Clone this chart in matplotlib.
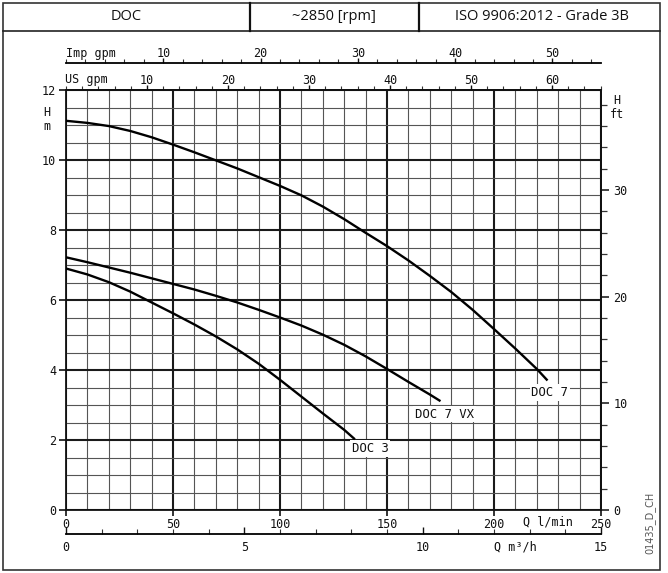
import matplotlib
matplotlib.use("Agg")
import matplotlib.pyplot as plt
from matplotlib.ticker import MultipleLocator, FixedLocator
from matplotlib.patches import Rectangle
from matplotlib.lines import Line2D

# ---------------- data ----------------
q_doc7 = [0, 10, 20, 30, 40, 50, 60, 70, 80, 90, 100, 110, 120, 130, 140, 150,
          160, 170, 180, 190, 200, 210, 220, 225]
h_doc7 = [11.12, 11.06, 10.97, 10.83, 10.65, 10.44, 10.22, 9.99, 9.76, 9.51, 9.26,
          8.99, 8.67, 8.31, 7.92, 7.54, 7.13, 6.69, 6.23, 5.72, 5.17, 4.61, 4.03, 3.70]

q_doc7vx = [0, 10, 20, 30, 40, 50, 60, 70, 80, 90, 100, 110, 120, 130, 140, 150,
            160, 170, 175]
h_doc7vx = [7.22, 7.08, 6.93, 6.78, 6.62, 6.46, 6.30, 6.12, 5.93, 5.72, 5.50,
            5.27, 5.01, 4.72, 4.39, 4.03, 3.66, 3.30, 3.11]

q_doc3 = [0, 10, 20, 30, 40, 50, 60, 70, 80, 90, 100, 110, 120, 130, 135]
h_doc3 = [6.90, 6.73, 6.51, 6.24, 5.93, 5.62, 5.30, 4.96, 4.59, 4.18, 3.72,
          3.24, 2.76, 2.29, 2.02]

curve_names = ["DOC 7", "DOC 7 VX", "DOC 3"]
header_texts = ["DOC", "~2850 [rpm]", "ISO 9906:2012 - Grade 3B"]
lmin_ticks = [0, 50, 100, 150, 200, 250]
m_ticks = [0, 2, 4, 6, 8, 10, 12]
ft_ticks = [0, 10, 20, 30]
usgpm_ticks = [10, 20, 30, 40, 50, 60]
impgpm_ticks = [10, 20, 30, 40, 50]
m3h_ticks = [0, 5, 10, 15]
drawing_code = "01435_D_CH"

W, H = 668, 573
MONO = "DejaVu Sans Mono"

def fx(px):
    return px / W

def fy(py):
    return 1 - py / H

fig = plt.figure(figsize=(W / 100, H / 100), dpi=100)

# ---------------- frame & header ----------------
fig.patches.append(Rectangle((fx(2.5), fy(570)), fx(660) - fx(2.5), fy(2.5) - fy(570),
                             transform=fig.transFigure, fill=False,
                             edgecolor="#333333", lw=1.2))
fig.lines.append(Line2D([fx(2.5), fx(660)], [fy(31), fy(31)],
                        transform=fig.transFigure, color="#222222", lw=1.2))
for xd in (250, 419):
    fig.lines.append(Line2D([fx(xd), fx(xd)], [fy(2.5), fy(31)],
                            transform=fig.transFigure, color="#111111", lw=1.6))
for xc, t in zip((126, 334, 542), header_texts):
    fig.text(fx(xc), fy(17), t, ha="center", va="center",
             fontsize=10.5, family="Open Sans", color="#111111")

# ---------------- main axes ----------------
ax = fig.add_axes([fx(66), fy(510), fx(601) - fx(66), fy(90) - fy(510)])
ax.set_xlim(0, 250)
ax.set_ylim(0, 12)

ax.xaxis.set_major_locator(FixedLocator(lmin_ticks))
ax.xaxis.set_minor_locator(MultipleLocator(10))
ax.yaxis.set_major_locator(FixedLocator(m_ticks))
ax.yaxis.set_minor_locator(MultipleLocator(0.5))
ax.grid(which="major", color="#1a1a1a", lw=1.5)
ax.grid(which="minor", color="#555555", lw=0.8)
ax.set_axisbelow(True)
ax.tick_params(which="minor", length=0)
ax.tick_params(axis="x", which="major", direction="out", length=4, width=1.2,
               pad=2, labelsize=8.5, colors="#111111")
ax.tick_params(axis="y", which="major", direction="out", length=5, width=1.2,
               pad=2, labelsize=8.5, colors="#111111")
for lab in ax.get_xticklabels() + ax.get_yticklabels():
    lab.set_family(MONO)
for s in ax.spines.values():
    s.set_color("#111111")
    s.set_linewidth(1.3)

# curves
ax.plot(q_doc7, h_doc7, color="black", lw=1.7, solid_capstyle="butt", zorder=5)
ax.plot(q_doc7vx, h_doc7vx, color="black", lw=1.7, solid_capstyle="butt", zorder=5)
ax.plot(q_doc3, h_doc3, color="black", lw=1.7, solid_capstyle="butt", zorder=5)

lab_kw = dict(fontsize=8.8, family=MONO, color="#111111", va="center", ha="left",
              bbox=dict(facecolor="white", edgecolor="none", pad=1.2), zorder=4)
ax.text(q_doc7[-1] - 7.5, h_doc7[-1] - 0.34, curve_names[0], **lab_kw)
ax.text(q_doc7vx[-1] - 12.0, h_doc7vx[-1] - 0.37, curve_names[1], **lab_kw)
ax.text(q_doc3[-1] - 1.5, h_doc3[-1] - 0.26, curve_names[2], **lab_kw)

# ---------------- right axis (ft) ----------------
M2FT = 3.28084
axr = ax.secondary_yaxis("right", functions=(lambda m: m * M2FT, lambda f: f / M2FT))
axr.yaxis.set_major_locator(FixedLocator(ft_ticks))
axr.yaxis.set_minor_locator(MultipleLocator(2))
axr.tick_params(which="major", direction="out", length=6, width=1.1, pad=3,
                labelsize=8.5, colors="#111111")
axr.tick_params(which="minor", direction="out", length=4, width=0.9, colors="#333333")
for lab in axr.get_yticklabels():
    lab.set_family(MONO)
axr.spines["right"].set_linewidth(1.3)

# ---------------- top axes (gpm) ----------------
USG = 3.78541
IMPG = 4.54609
axus = ax.secondary_xaxis("top", functions=(lambda q: q / USG, lambda g: g * USG))
axus.xaxis.set_major_locator(FixedLocator(usgpm_ticks))
axus.xaxis.set_minor_locator(MultipleLocator(2))
axus.tick_params(which="major", direction="out", length=3.5, width=1.0, pad=-1,
                 labelsize=8.5, colors="#111111")
axus.tick_params(which="minor", direction="out", length=3, width=0.8, colors="#333333")
for lab in axus.get_xticklabels():
    lab.set_family(MONO)
axus.spines["top"].set_linewidth(1.3)

imp_loc = (510 - 63) / 420
aximp = ax.secondary_xaxis(imp_loc, functions=(lambda q: q / IMPG, lambda g: g * IMPG))
aximp.xaxis.set_major_locator(FixedLocator(impgpm_ticks))
aximp.xaxis.set_minor_locator(MultipleLocator(2))
aximp.tick_params(which="major", direction="out", length=3.5, width=1.0, pad=-1,
                  labelsize=8.5, colors="#111111")
aximp.tick_params(which="minor", direction="out", length=3, width=0.8, colors="#333333")
for lab in aximp.get_xticklabels():
    lab.set_family(MONO)
for s in aximp.spines.values():
    s.set_linewidth(1.3)

# ---------------- bottom axis (m3/h) ----------------
m3h_loc = (510 - 534) / 420
axm3 = ax.secondary_xaxis(m3h_loc, functions=(lambda q: q * 0.06, lambda v: v / 0.06))
axm3.xaxis.set_major_locator(FixedLocator(m3h_ticks))
axm3.xaxis.set_minor_locator(MultipleLocator(1))
axm3.tick_params(which="major", direction="in", length=5, width=1.0, pad=5,
                 labelsize=8.5, colors="#111111")
axm3.tick_params(which="minor", direction="in", length=3.5, width=0.8, colors="#333333")
for lab in axm3.get_xticklabels():
    lab.set_family(MONO)
for s in axm3.spines.values():
    s.set_linewidth(1.3)

# ---------------- axis titles ----------------
tkw = dict(fontsize=8.5, family=MONO, color="#111111", va="center")
fig.text(fx(47), fy(112), "H", ha="center", **tkw)
fig.text(fx(47), fy(126), "m", ha="center", **tkw)
fig.text(fx(617), fy(101), "H", ha="center", **tkw)
fig.text(fx(617), fy(115), "ft", ha="center", **tkw)
fig.text(fx(65), fy(80), "US gpm", ha="left", **tkw)
fig.text(fx(66), fy(54), "Imp gpm", ha="left", **tkw)
fig.text(fx(548), fy(522), "Q l/min", ha="center",
         bbox=dict(facecolor="white", edgecolor="none", pad=0.5), **tkw)
fig.text(fx(515), fy(547), "Q m³/h", ha="center", **tkw)
fig.text(fx(650), fy(523), drawing_code, rotation=90, ha="center", va="center",
         fontsize=7, family="DejaVu Sans", color="#555555")

fig.savefig("out.png", dpi=100)
